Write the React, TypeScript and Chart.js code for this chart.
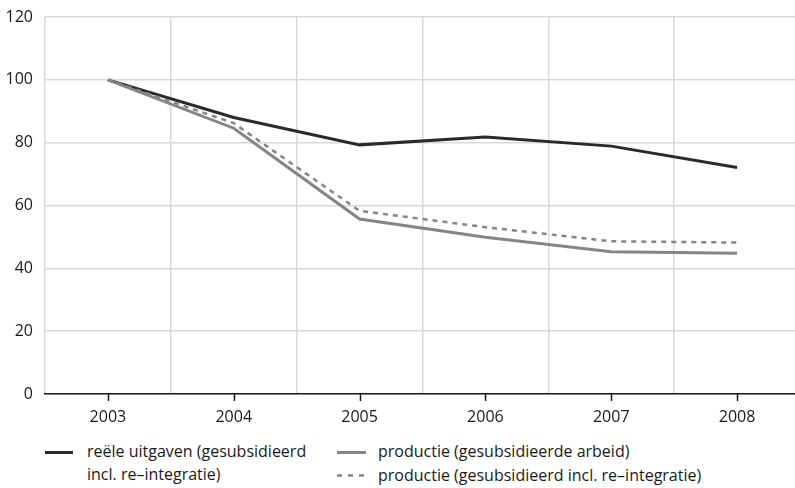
import React, { useEffect, useRef } from "react";
import { Chart, registerables } from "chart.js";

Chart.register(...registerables);

const years = ["2003", "2004", "2005", "2006", "2007", "2008"];
const reeleUitgaven = [100, 88, 79.3, 81.8, 78.9, 72.1];
const productieArbeid = [100, 84.6, 55.7, 49.9, 45.3, 44.8];
const productieReintegratie = [100, 86.2, 58.3, 53.1, 48.6, 48.2];
const yMin = 0;
const yMax = 120;
const yStep = 20;

const legendLabels = [
  "reële uitgaven (gesubsidieerd incl. re–integratie)",
  "productie (gesubsidieerde arbeid)",
  "productie (gesubsidieerd incl. re–integratie)",
];

const FONT = "'Open Sans', 'DejaVu Sans', sans-serif";
const TEXT = "#1a1a1a";
const BLACK = "#2a2a2a";
const GRAY = "#858585";
const GRID = "#d9d9d9";
const CANVAS_W = 800;
const CANVAS_H = 430;
const AXIS_Y = 394;
const PLOT_TOP = 17;

const tickMarks = {
  id: "tickMarks",
  afterDraw(chart: any) {
    const xs = chart.scales.x;
    const ctx = chart.ctx;
    const bottom = chart.chartArea.bottom;
    ctx.save();
    ctx.strokeStyle = TEXT;
    ctx.lineWidth = 1.5;
    for (let i = 0; i < years.length; i++) {
      const x = Math.round(xs.getPixelForValue(i)) + 0.5;
      ctx.beginPath();
      ctx.moveTo(x, bottom);
      ctx.lineTo(x, bottom + 7);
      ctx.stroke();
    }
    ctx.restore();
  },
};

export default function App() {
  const ref = useRef<HTMLCanvasElement | null>(null);

  useEffect(() => {
    document.body.style.margin = "0";
    const canvas = ref.current;
    if (!canvas) return;
    const chart = new Chart(canvas, {
      type: "line",
      data: {
        labels: years,
        datasets: [
          {
            label: legendLabels[2],
            data: productieReintegratie,
            borderColor: GRAY,
            borderWidth: 2.5,
            borderDash: [5, 5],
            pointRadius: 0,
            tension: 0,
            fill: false,
          },
          {
            label: legendLabels[1],
            data: productieArbeid,
            borderColor: GRAY,
            borderWidth: 3,
            pointRadius: 0,
            tension: 0,
            fill: false,
          },
          {
            label: legendLabels[0],
            data: reeleUitgaven,
            borderColor: BLACK,
            borderWidth: 3,
            pointRadius: 0,
            tension: 0,
            fill: false,
          },
        ],
      },
      options: {
        responsive: false,
        animation: false,
        devicePixelRatio: 1,
        layout: { padding: { top: PLOT_TOP, left: 0, right: 0, bottom: 0 } },
        plugins: {
          legend: { display: false },
          tooltip: { enabled: false },
        },
        scales: {
          x: {
            type: "category",
            offset: true,
            grid: {
              display: true,
              offset: true,
              color: GRID,
              lineWidth: 1.5,
              drawTicks: false,
            },
            border: { display: true, color: TEXT, width: 1.5 },
            ticks: {
              padding: 14,
              color: TEXT,
              font: { family: FONT, size: 16 },
              maxRotation: 0,
            },
            afterFit: (s: any) => {
              s.height = CANVAS_H - AXIS_Y;
              s.paddingLeft = 0;
              s.paddingRight = 0;
            },
          },
          y: {
            min: yMin,
            max: yMax,
            ticks: {
              stepSize: yStep,
              padding: 12,
              color: TEXT,
              font: { family: FONT, size: 16 },
            },
            grid: { color: GRID, lineWidth: 1.5, drawTicks: false },
            border: { display: false },
            afterFit: (s: any) => {
              s.width = 45;
              s.paddingTop = 0;
              s.paddingBottom = 0;
            },
          },
        },
      },
      plugins: [tickMarks],
    });
    return () => chart.destroy();
  }, []);

  const textStyle: React.CSSProperties = {
    fontFamily: FONT,
    fontSize: 16,
    color: TEXT,
    lineHeight: "23px",
    whiteSpace: "nowrap",
  };

  return (
    <div
      style={{
        position: "absolute",
        left: 0,
        top: 0,
        width: 795,
        height: 488,
        overflow: "hidden",
        background: "#fff",
      }}
    >
      <canvas
        ref={ref}
        width={CANVAS_W}
        height={CANVAS_H}
        style={{ position: "absolute", left: 0, top: 0, width: CANVAS_W, height: CANVAS_H }}
      />
      {/* legend column 1 */}
      <div style={{ position: "absolute", left: 45, top: 440.5, width: 28, height: 23 }}>
        <svg width="28" height="23">
          <line x1="0" y1="11.5" x2="28" y2="11.5" stroke={BLACK} strokeWidth="3" />
        </svg>
      </div>
      <div style={{ ...textStyle, position: "absolute", left: 87, top: 440 }}>
        reële uitgaven (gesubsidieerd
        <br />
        incl. re–integratie)
      </div>
      {/* legend column 2 */}
      <div style={{ position: "absolute", left: 337, top: 440.5, width: 29, height: 23 }}>
        <svg width="29" height="23">
          <line x1="0" y1="11.5" x2="29" y2="11.5" stroke={GRAY} strokeWidth="3" />
        </svg>
      </div>
      <div style={{ ...textStyle, position: "absolute", left: 378, top: 440 }}>
        {legendLabels[1]}
      </div>
      <div style={{ position: "absolute", left: 337, top: 463.5, width: 29, height: 23 }}>
        <svg width="29" height="23">
          <line
            x1="0"
            y1="11.5"
            x2="27"
            y2="11.5"
            stroke={GRAY}
            strokeWidth="2.5"
            strokeDasharray="5 6"
          />
        </svg>
      </div>
      <div style={{ ...textStyle, position: "absolute", left: 378, top: 463.5 }}>
        {legendLabels[2]}
      </div>
    </div>
  );
}
